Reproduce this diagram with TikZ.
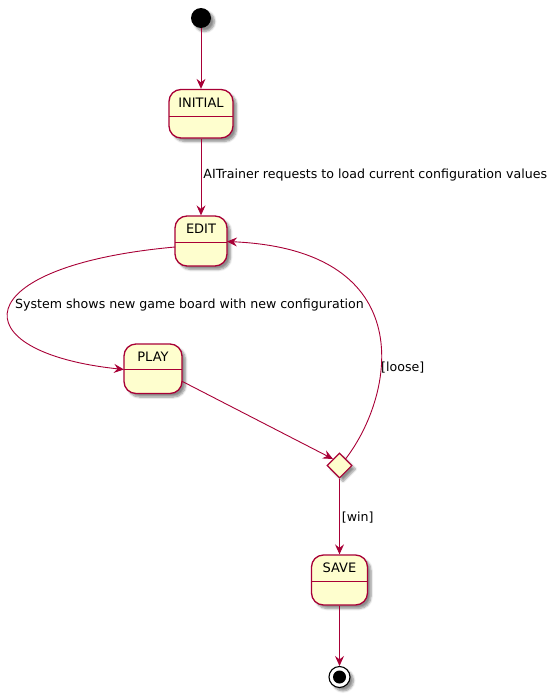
\documentclass[tikz,border=0pt]{standalone}
\usepackage{fontspec}
\setmainfont{DejaVu Sans}
\usetikzlibrary{arrows.meta,shapes.geometric,shadows.blur}
\definecolor{pborder}{HTML}{A80036}
\definecolor{pfill}{HTML}{FEFECE}
\tikzset{
  shad/.style={blur shadow={shadow xshift=3.5pt,shadow yshift=-3.5pt,shadow blur steps=6,shadow opacity=45}},
  statebox/.style={draw=pborder,fill=pfill,line width=1.3pt,rounded corners=12pt,inner sep=0pt,shad},
  divider/.style={draw=pborder,line width=1pt},
  stname/.style={font=\fontsize{13}{15}\selectfont,inner sep=0pt},
  edge/.style={draw=pborder,line width=0.9pt,-{Stealth[length=10pt,width=9pt,inset=3.5pt]}},
  elabel/.style={font=\fontsize{12.6}{15}\selectfont,inner sep=0pt,anchor=west},
  decision/.style={diamond,draw=pborder,fill=pfill,line width=1.1pt,minimum width=25pt,minimum height=25pt,inner sep=0pt,shad},
}
\begin{document}
\begin{tikzpicture}[x=1pt,y=-1pt]
\useasboundingbox (0,0) rectangle (559,696);
% start
\node[circle,fill=black,minimum size=20pt,inner sep=0pt,shad] (start) at (201,18) {};
% INITIAL
\node[statebox,minimum width=64pt,minimum height=48.5pt] (initial) at (201,113.75) {};
\draw[divider] (169,116) -- (233,116);
\node[stname] (initialt) at (201,102.7) {INITIAL};
% EDIT
\node[statebox,minimum width=52pt,minimum height=50pt] (edit) at (201,241) {};
\draw[divider] (175,242) -- (227,242);
\node[stname] (editt) at (201,229) {EDIT};
% PLAY
\node[statebox,minimum width=58pt,minimum height=49.5pt] (play) at (153,368.75) {};
\draw[divider] (124,369.5) -- (182,369.5);
\node[stname] (playt) at (153,356.7) {PLAY};
% decision
\node[decision] (dec) at (339.5,465.5) {};
% SAVE
\node[statebox,minimum width=56pt,minimum height=50pt] (save) at (339.5,580) {};
\draw[divider] (311.5,581.5) -- (367.5,581.5);
\node[stname] (savet) at (339.5,568) {SAVE};
% end
\node[circle,draw=black,fill=white,line width=1.1pt,minimum size=21pt,inner sep=0pt,shad] (end) at (339.5,677) {};
\node[circle,fill=black,minimum size=13pt,inner sep=0pt] (endin) at (339.5,677) {};
% edges
\draw[edge] (start) -- (initial);
\draw[edge] (initial) -- node[elabel,pos=0.48,xshift=2pt] (l1) {AITrainer requests to load current configuration values} (edit);
\coordinate (eL) at (175,247);
\coordinate (pL) at (124,369.5);
\draw[edge] (eL) .. controls (-35,266) and (-41,352) .. (pL);
\node[elabel] (l2) at (15,305) {System shows new game board with new configuration};
\coordinate (pR) at (181.5,381);
\draw[edge] (pR) -- (dec.north west);
\coordinate (dR) at (345.5,459);
\coordinate (eR) at (227,241.5);
\draw[edge] (dR) .. controls (395,395) and (422,250) .. (eR);
\node[elabel] (l3) at (381,368) {[loose]};
\draw[edge] (dec.south) -- node[elabel,pos=0.52,xshift=2pt] (l4) {[win]} (save);
\draw[edge] (save) -- (end);
\end{tikzpicture}
\end{document}
